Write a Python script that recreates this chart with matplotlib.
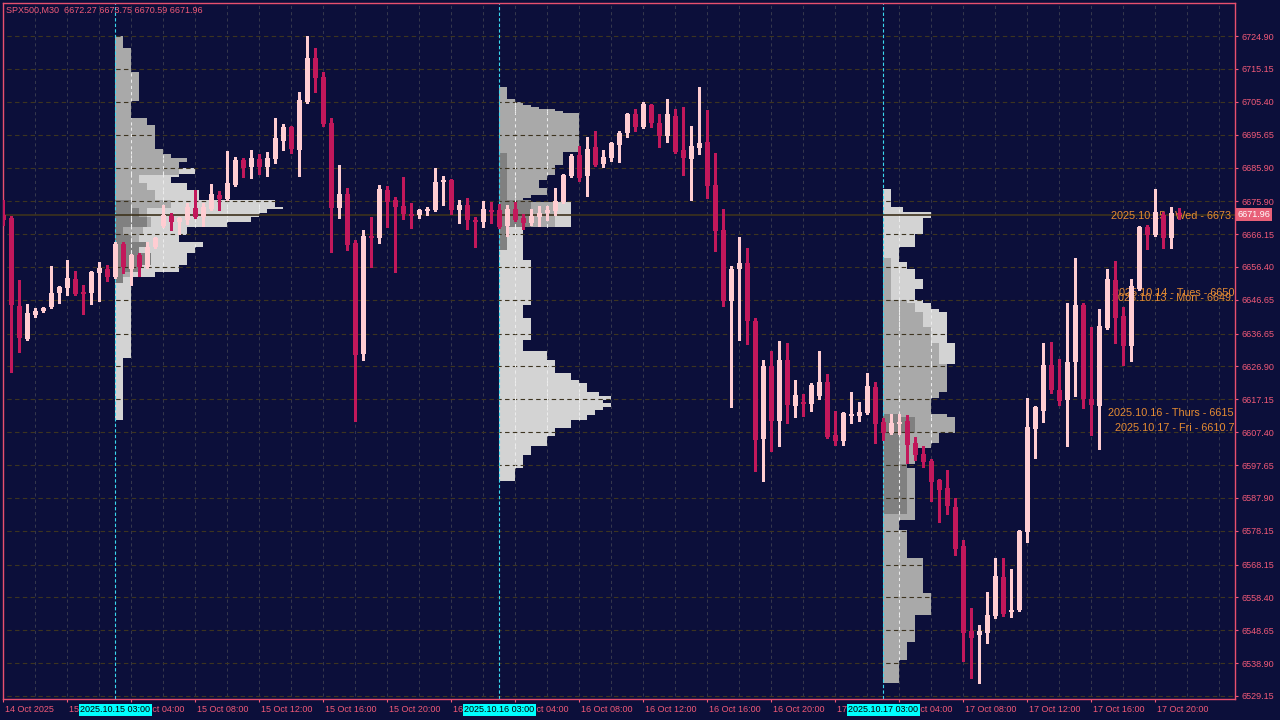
import numpy as np
import matplotlib.pyplot as plt
from matplotlib import transforms

# ---- candles (30 min bars, index 0 = first visible bar) ----
opens = [6671.8, 6670.9, 6644.8, 6635.0, 6642.2, 6643.3, 6644.5, 6648.7, 6650.2, 6652.8,
         6649.0, 6648.7, 6654.6, 6655.8, 6653.4, 6663.2, 6655.8, 6660.0, 6656.4, 6662.3,
         6668.5, 6671.5, 6669.7, 6670.3, 6673.9, 6671.2, 6673.6, 6677.7, 6676.6, 6680.7,
         6688.1, 6686.0, 6688.4, 6686.0, 6688.4, 6693.8, 6697.9, 6691.1, 6705.3, 6718.4,
         6712.7, 6699.1, 6673.9, 6678.0, 6663.5, 6630.6, 6665.6, 6665.0, 6679.2, 6676.3,
         6674.5, 6672.1, 6671.8, 6673.0, 6673.3, 6681.6, 6682.2, 6673.3, 6674.8, 6670.3,
         6669.7, 6673.3, 6673.3, 6668.5, 6673.6, 6670.9, 6669.4, 6671.2, 6672.4, 6673.0,
         6675.7, 6683.4, 6689.6, 6683.4, 6692.0, 6686.9, 6688.7, 6692.6, 6696.1, 6701.8,
         6697.9, 6704.4, 6699.1, 6695.2, 6701.2, 6691.1, 6688.4, 6691.7, 6693.5, 6680.7,
         6667.4, 6646.3, 6655.8, 6657.6, 6640.4, 6605.4, 6627.0, 6610.7, 6628.8, 6615.2,
         6616.3, 6615.8, 6618.1, 6622.3, 6606.6, 6604.8, 6612.2, 6612.2, 6613.1, 6620.8,
         6610.4, 6607.2, 6609.8, 6610.7, 6604.2, 6600.9, 6598.9, 6593.2, 6590.8, 6585.2,
         6573.6, 6548.4, 6547.2, 6547.8, 6552.9, 6564.4, 6554.1, 6554.7, 6577.8, 6608.3,
         6613.7, 6627.3, 6619.9, 6616.9, 6628.2, 6645.1, 6617.2, 6615.2, 6638.3, 6652.5,
         6641.9, 6633.0, 6649.9, 6668.3, 6665.9, 6671.8, 6665.0, 6672.27]
highs = [6676.3, 6671.5, 6652.5, 6645.4, 6644.2, 6644.5, 6656.7, 6650.8, 6658.5, 6655.2,
         6651.1, 6655.2, 6657.9, 6657.0, 6663.8, 6663.8, 6660.2, 6660.5, 6663.8, 6665.3,
         6674.8, 6672.4, 6671.2, 6675.4, 6679.2, 6675.4, 6681.0, 6678.9, 6690.8, 6689.0,
         6688.7, 6691.1, 6689.9, 6690.5, 6700.6, 6698.8, 6698.2, 6708.3, 6724.9, 6721.3,
         6714.2, 6700.6, 6686.6, 6679.8, 6664.4, 6667.4, 6671.2, 6680.7, 6680.4, 6677.2,
         6683.1, 6675.4, 6673.6, 6674.2, 6685.8, 6683.4, 6682.5, 6676.3, 6676.9, 6671.2,
         6676.0, 6675.7, 6675.1, 6674.8, 6675.7, 6672.1, 6673.6, 6674.5, 6674.5, 6679.8,
         6684.0, 6689.9, 6692.3, 6694.9, 6696.7, 6691.1, 6693.5, 6696.7, 6702.1, 6703.3,
         6705.3, 6704.7, 6701.8, 6706.2, 6703.3, 6703.8, 6698.2, 6709.8, 6703.0, 6690.2,
         6673.6, 6656.7, 6665.3, 6662.0, 6641.3, 6628.8, 6631.5, 6634.4, 6633.8, 6622.9,
         6618.7, 6622.0, 6631.5, 6624.7, 6613.7, 6613.4, 6619.3, 6616.3, 6625.0, 6622.3,
         6611.6, 6612.8, 6612.8, 6612.5, 6606.0, 6603.3, 6599.4, 6593.5, 6596.2, 6587.9,
         6575.4, 6555.3, 6550.2, 6560.0, 6570.1, 6570.1, 6566.8, 6578.4, 6617.5, 6615.2,
         6633.8, 6634.1, 6629.1, 6645.7, 6659.1, 6645.7, 6638.6, 6643.9, 6655.8, 6658.2,
         6644.5, 6652.8, 6668.5, 6668.8, 6679.5, 6672.7, 6674.2, 6673.75]
lows = [6668.8, 6625.2, 6631.2, 6634.7, 6641.6, 6643.0, 6644.2, 6645.7, 6648.1, 6648.1,
        6642.5, 6645.4, 6646.3, 6652.2, 6653.1, 6654.6, 6651.1, 6653.7, 6656.1, 6662.0,
        6668.3, 6667.4, 6666.2, 6669.1, 6670.9, 6668.5, 6673.3, 6673.3, 6676.3, 6680.4,
        6683.1, 6682.8, 6684.0, 6683.4, 6687.2, 6691.1, 6690.2, 6683.4, 6705.0, 6708.3,
        6698.2, 6660.8, 6670.9, 6661.4, 6610.7, 6628.8, 6656.4, 6663.5, 6668.3, 6654.9,
        6670.6, 6668.0, 6670.9, 6671.8, 6673.0, 6674.8, 6672.1, 6669.4, 6667.7, 6662.3,
        6668.3, 6669.4, 6668.0, 6665.6, 6670.0, 6667.7, 6668.8, 6668.5, 6670.3, 6671.8,
        6675.4, 6683.1, 6681.9, 6677.4, 6686.3, 6686.0, 6687.8, 6687.5, 6694.9, 6696.7,
        6697.6, 6697.9, 6692.0, 6693.5, 6690.2, 6683.7, 6676.3, 6689.9, 6676.9, 6661.1,
        6644.8, 6614.9, 6634.7, 6633.6, 6595.9, 6592.9, 6601.8, 6603.3, 6610.1, 6611.9,
        6612.2, 6613.7, 6617.2, 6605.7, 6603.6, 6603.6, 6610.1, 6610.7, 6612.8, 6604.2,
        6605.1, 6606.9, 6606.9, 6598.3, 6599.1, 6597.1, 6587.0, 6580.8, 6583.1, 6571.0,
        6539.5, 6534.5, 6533.0, 6544.9, 6552.3, 6552.9, 6552.6, 6554.4, 6574.8, 6599.7,
        6610.4, 6619.0, 6615.5, 6603.3, 6618.1, 6614.6, 6606.6, 6602.4, 6638.0, 6633.8,
        6627.3, 6628.5, 6649.6, 6661.7, 6665.6, 6662.0, 6662.0, 6670.59]
closes = [6670.3, 6645.1, 6635.3, 6642.7, 6643.3, 6644.2, 6648.7, 6650.5, 6653.1, 6648.4,
          6648.4, 6654.9, 6656.1, 6653.4, 6663.2, 6656.4, 6660.0, 6656.4, 6662.3, 6665.0,
          6671.8, 6669.7, 6670.9, 6674.2, 6671.2, 6674.2, 6678.0, 6676.6, 6681.3, 6688.1,
          6685.8, 6688.7, 6686.0, 6688.7, 6694.6, 6697.9, 6691.4, 6705.9, 6718.4, 6712.4,
          6698.8, 6673.9, 6678.0, 6662.9, 6630.3, 6665.6, 6665.0, 6679.5, 6675.7, 6674.2,
          6672.1, 6671.5, 6673.3, 6673.6, 6681.6, 6682.2, 6673.3, 6674.8, 6670.3, 6669.7,
          6673.6, 6672.7, 6668.3, 6673.6, 6670.3, 6669.4, 6671.5, 6672.4, 6673.3, 6676.0,
          6683.7, 6689.3, 6682.8, 6691.4, 6686.6, 6689.0, 6693.2, 6696.1, 6701.8, 6697.9,
          6704.7, 6699.1, 6695.2, 6701.8, 6690.5, 6688.7, 6692.3, 6693.2, 6680.4, 6667.1,
          6646.3, 6655.8, 6657.6, 6640.4, 6605.1, 6627.0, 6610.7, 6628.8, 6615.5, 6618.4,
          6615.8, 6621.4, 6622.3, 6606.0, 6604.8, 6613.1, 6612.8, 6613.4, 6621.1, 6609.8,
          6607.2, 6610.1, 6610.4, 6603.6, 6600.6, 6598.6, 6592.6, 6590.3, 6585.5, 6572.8,
          6547.8, 6546.4, 6548.4, 6553.2, 6564.7, 6553.5, 6554.7, 6578.1, 6608.9, 6614.9,
          6627.3, 6619.9, 6616.6, 6628.2, 6645.1, 6617.2, 6615.5, 6638.9, 6652.8, 6641.3,
          6633.0, 6650.8, 6668.3, 6665.9, 6672.7, 6665.0, 6672.4, 6671.96]

last_price = 6671.96

price_ticks = [6724.90, 6715.15, 6705.40, 6695.65, 6685.90, 6675.90, 6666.15, 6656.40,
               6646.65, 6636.65, 6626.90, 6617.15, 6607.40, 6597.65, 6587.90, 6578.15,
               6568.15, 6558.40, 6548.65, 6538.90, 6529.15]

time_tick_bars = [0, 8, 16, 24, 32, 40, 48, 56, 64, 72, 80, 88, 96, 104, 112, 120, 128, 136, 144]
time_tick_labels = ['14 Oct 2025', '15 Oct 00:00', '15 Oct 04:00', '15 Oct 08:00', '15 Oct 12:00',
                    '15 Oct 16:00', '15 Oct 20:00', '16 Oct 00:00', '16 Oct 04:00', '16 Oct 08:00',
                    '16 Oct 12:00', '16 Oct 16:00', '16 Oct 20:00', '17 Oct 00:00', '17 Oct 04:00',
                    '17 Oct 08:00', '17 Oct 12:00', '17 Oct 16:00', '17 Oct 20:00']
grid_bars = np.arange(4, 154, 4)

session_bars = [14, 62, 110]
session_labels = ['2025.10.15 03:00', '2025.10.16 03:00', '2025.10.17 03:00']

# session level labels (text, price)
level_texts = ['2025.10.15 - Wed - 6673.', '2025.10.14 - Tues - 6650', '2025.10.13 - Mon - 6649.',
               '2025.10.16 - Thurs - 6615', '2025.10.17 - Fri - 6610.7']
level_prices = [6671.5, 6648.7, 6647.2, 6613.1, 6608.6]

# ---- volume profiles: (price top, price bottom, width in bars) ----
profA_light = [(6685.8, 6684.0, 10), (6684.0, 6683.1, 8), (6683.1, 6681.3, 7), (6681.3, 6679.2, 9),
               (6679.2, 6676.3, 10.5), (6676.3, 6674.2, 20), (6674.2, 6673.6, 21), (6673.6, 6672.4, 19),
               (6672.4, 6671.2, 18), (6671.2, 6669.7, 17), (6669.7, 6668.3, 14), (6668.3, 6665.9, 9),
               (6665.9, 6663.8, 8), (6663.8, 6662.3, 11), (6662.3, 6660.5, 10), (6660.5, 6657.0, 9),
               (6657.0, 6654.9, 8), (6654.9, 6653.4, 5), (6653.4, 6629.4, 2), (6629.4, 6611.0, 1)]
profA_gray = [(6724.9, 6721.3, 1), (6721.3, 6714.2, 2), (6714.2, 6705.6, 3), (6705.6, 6700.6, 2),
              (6700.6, 6698.5, 4), (6698.5, 6691.4, 5), (6691.4, 6689.9, 6), (6689.9, 6688.7, 7),
              (6688.7, 6687.5, 9), (6687.5, 6683.7, 8), (6683.7, 6681.3, 3), (6681.3, 6679.2, 4),
              (6679.2, 6676.3, 5), (6676.3, 6673.9, 7), (6673.9, 6671.2, 4), (6671.2, 6668.3, 4.5),
              (6668.3, 6665.9, 3.5), (6665.9, 6654.9, 3), (6654.9, 6653.4, 2)]
profA_dark = [(6676.3, 6673.9, 2), (6673.9, 6671.2, 3), (6671.2, 6668.3, 4), (6668.3, 6665.9, 1),
              (6665.9, 6663.8, 2), (6663.8, 6662.3, 4), (6662.3, 6660.5, 3), (6660.5, 6657.0, 4.5),
              (6657.0, 6654.9, 3), (6654.9, 6651.6, 1)]

profB_light = [(6675.7, 6668.3, 9), (6668.3, 6658.4, 3), (6658.4, 6645.1, 4), (6645.1, 6641.3, 3),
               (6641.3, 6634.7, 4), (6634.7, 6631.5, 3), (6631.5, 6628.8, 6), (6628.8, 6625.0, 7),
               (6625.0, 6622.9, 9), (6622.9, 6622.0, 10), (6622.0, 6619.3, 11), (6619.3, 6618.1, 12.5),
               (6618.1, 6616.9, 14), (6616.9, 6616.0, 13), (6616.0, 6614.9, 14), (6614.9, 6614.0, 13),
               (6614.0, 6612.5, 12), (6612.5, 6611.0, 11), (6611.0, 6608.6, 9), (6608.6, 6606.3, 7),
               (6606.3, 6603.3, 6), (6603.3, 6600.6, 4), (6600.6, 6596.8, 3), (6596.8, 6592.9, 2)]
profB_gray = [(6709.8, 6706.2, 1), (6706.2, 6705.3, 2), (6705.3, 6704.4, 3), (6704.4, 6703.9, 4),
              (6703.9, 6703.3, 5), (6703.3, 6702.7, 7), (6702.7, 6702.1, 8), (6702.1, 6690.5, 10),
              (6690.5, 6686.6, 8), (6686.6, 6683.7, 7), (6683.7, 6682.2, 6), (6682.2, 6679.8, 5),
              (6679.8, 6677.7, 6), (6677.7, 6676.9, 4), (6676.9, 6675.7, 3), (6675.7, 6668.3, 7)]
profB_dark = [(6690.2, 6676.3, 1), (6676.3, 6668.3, 4), (6668.3, 6661.4, 1)]

profC_light = [(6679.5, 6674.2, 1), (6674.2, 6672.7, 2.5), (6672.7, 6670.9, 6), (6670.9, 6666.2, 5),
               (6666.2, 6662.3, 4), (6662.3, 6657.9, 2), (6657.9, 6655.8, 3), (6655.8, 6652.8, 4),
               (6652.8, 6649.9, 5), (6649.9, 6646.6, 4), (6646.6, 6645.7, 5), (6645.7, 6644.0, 6),
               (6644.0, 6643.1, 7), (6643.1, 6633.8, 8), (6633.8, 6627.6, 9)]
profC_gray = [(6659.1, 6646.6, 1), (6646.6, 6645.7, 3), (6645.7, 6643.1, 4), (6643.1, 6638.6, 5),
              (6638.6, 6633.8, 6), (6633.8, 6627.6, 7), (6627.6, 6619.3, 8), (6619.3, 6617.5, 7),
              (6617.5, 6612.8, 6), (6612.8, 6611.9, 8), (6611.9, 6607.2, 9), (6607.2, 6604.2, 7),
              (6604.2, 6602.7, 6), (6602.7, 6597.9, 4), (6597.9, 6596.8, 3), (6596.8, 6581.4, 4),
              (6581.4, 6578.4, 2), (6578.4, 6570.1, 3), (6570.1, 6559.7, 5), (6559.7, 6553.2, 6),
              (6553.2, 6545.2, 4), (6545.2, 6539.9, 3), (6539.9, 6532.9, 2)]
profC_dark = [(6612.8, 6611.9, 2), (6611.9, 6607.2, 4), (6607.2, 6597.9, 2), (6597.9, 6583.1, 3)]

# colours
bg = '#0c0f3a'
txt = '#f25a78'
bull_col = '#ffcdd2'
bear_col = '#c2185b'

plt.rcParams['font.family'] = ['Liberation Sans', 'DejaVu Sans']

fig = plt.figure(figsize=(12.8, 7.2), dpi=100)
fig.patch.set_facecolor(bg)
ax = fig.add_axes([3 / 1280, 21 / 720, 1232 / 1280, 696 / 720])
ax.set_facecolor(bg)
ax.set_xlim(-0.04, 153.96)
ax.set_ylim(6528.26, 6734.69)


def draw_profile(x0, rows, color, z):
    top = np.array([r[0] for r in rows])
    bot = np.array([r[1] for r in rows])
    w = np.array([r[2] for r in rows])
    ax.barh((top + bot) / 2, w, height=top - bot, left=x0, color=color,
            linewidth=0, antialiased=False, zorder=z)
    # the chart grid shows up light where it crosses the profile
    for t, b, wi in rows:
        gx = grid_bars[(grid_bars > x0) & (grid_bars < x0 + wi)]
        if len(gx):
            ax.vlines(gx, b, t, colors='#ececec', linewidth=0.75,
                      linestyles=(0, (3, 3)), zorder=1.6)


for x0, light, gray, dark in [(session_bars[0], profA_light, profA_gray, profA_dark),
                              (session_bars[1], profB_light, profB_gray, profB_dark),
                              (session_bars[2], profC_light, profC_gray, profC_dark)]:
    draw_profile(x0, light, '#d3d3d3', 1.0)
    draw_profile(x0, gray, '#a9a9a9', 1.1)
    draw_profile(x0, dark, '#808080', 1.2)

# grid
ax.hlines(price_ticks, -1, 160, colors='#3d3420', linewidth=0.8,
          linestyles=(0, (4, 3)), zorder=1.5)
ax.vlines(grid_bars, 6500, 6750, colors='#35374c', linewidth=0.75,
          linestyles=(0, (3, 3)), zorder=0.5)

# session start lines
ax.vlines(session_bars, 6500, 6750, colors='#3ad8f0', linewidth=0.8,
          linestyles=(0, (3, 2)), zorder=2)

# last price line
ax.axhline(last_price, color='#3d321c', linewidth=1.2, zorder=2.2)

# level labels
for t, p in zip(level_texts, level_prices):
    ax.text(153.85, p, t, ha='right', va='center', color='#e68c32', fontsize=7.8, zorder=2.5)

# candles
o = np.array(opens)
h = np.array(highs)
l = np.array(lows)
c = np.array(closes)
xs = np.arange(len(o))
up = c >= o
body_lo = np.minimum(o, c)
body_h = np.maximum(np.abs(c - o), 0.5)
for mask, col in [(up, bull_col), (~up, bear_col)]:
    ax.vlines(xs[mask], l[mask], h[mask], colors=col, linewidth=0.75, zorder=3,
              antialiased=False)
    ax.bar(xs[mask], body_h[mask], bottom=body_lo[mask], width=0.625, color=col,
           linewidth=0, antialiased=False, zorder=3.1)

# axes styling
for s in ax.spines.values():
    s.set_color('#e8506e')
    s.set_linewidth(1.0)
ax.yaxis.tick_right()
ax.set_yticks(price_ticks)
ax.set_yticklabels(['%.2f' % v for v in price_ticks])
ax.tick_params(axis='y', colors=txt, labelsize=6.5, length=2.5, pad=2)
ax.set_xticks(time_tick_bars)
ax.set_xticklabels([])
ax.tick_params(axis='x', colors=txt, length=2.5)

trans_x = transforms.blended_transform_factory(ax.transData, ax.transAxes)
for b, s in zip(time_tick_bars, time_tick_labels):
    ax.text(b + 0.25, -0.0155, s, transform=trans_x, ha='left', va='center', fontsize=6.5,
            color=txt, clip_on=False)

# session time boxes on the time axis
for b, s in zip(session_bars, session_labels):
    ax.text(b, -0.0155, s, transform=trans_x, ha='center', va='center', fontsize=6.5,
            color='black', zorder=10, clip_on=False,
            bbox=dict(boxstyle='square,pad=0.15', fc='#00ffff', ec='none'))

# last price box on the price axis
trans_y = transforms.blended_transform_factory(ax.transAxes, ax.transData)
ax.text(1.002, last_price, '%.2f' % last_price, transform=trans_y, ha='left', va='center',
        fontsize=6.5, color='white', zorder=10, clip_on=False,
        bbox=dict(boxstyle='square,pad=0.2', fc='#e86078', ec='none'))

# title
fig.text(6 / 1280, 1 - 10 / 720, 'SPX500,M30  6672.27 6673.75 6670.59 6671.96',
         color=txt, fontsize=6.5, va='center', ha='left')

fig.savefig('out.png', dpi=100, facecolor=bg)
